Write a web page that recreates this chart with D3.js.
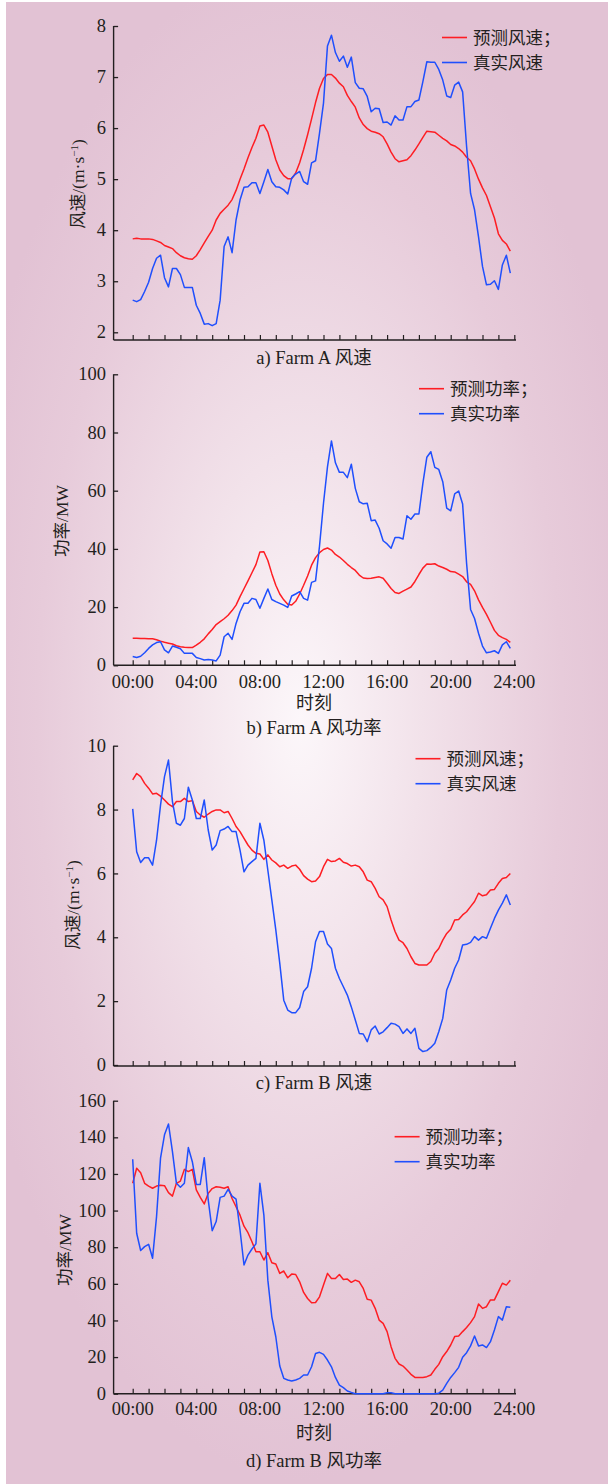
<!DOCTYPE html>
<html><head><meta charset="utf-8">
<script src="https://cdn.jsdelivr.net/npm/d3@7"></script>
<style>html,body{margin:0;padding:0;background:#fff;}svg{display:block;}</style>
</head><body>
<svg id="chart" width="608" height="1484"></svg>
<script>
// ---------------- data ----------------
const timeLabels = ["00:00","04:00","08:00","12:00","16:00","20:00","24:00"];
const stepHours = 0.25;

const farmAWindPred = [3.83,3.84,3.83,3.83,3.83,3.82,3.79,3.76,3.70,3.67,3.64,3.56,3.50,3.46,3.44,3.43,3.50,3.62,3.75,3.88,4.00,4.20,4.33,4.41,4.49,4.60,4.78,5.00,5.20,5.42,5.62,5.80,6.04,6.06,5.92,5.65,5.38,5.18,5.07,5.01,5.01,5.12,5.32,5.58,5.87,6.18,6.50,6.78,6.97,7.05,7.05,6.98,6.88,6.81,6.64,6.52,6.41,6.20,6.07,5.99,5.94,5.92,5.89,5.83,5.69,5.53,5.40,5.34,5.36,5.38,5.46,5.57,5.69,5.82,5.94,5.93,5.92,5.86,5.80,5.75,5.68,5.65,5.60,5.53,5.43,5.36,5.20,5.00,4.83,4.68,4.46,4.24,3.93,3.80,3.73,3.59];
const farmAWindReal = [2.63,2.60,2.64,2.80,2.98,3.25,3.45,3.51,3.07,2.89,3.25,3.25,3.13,2.88,2.88,2.88,2.53,2.37,2.16,2.17,2.13,2.17,2.63,3.68,3.87,3.56,4.20,4.59,4.84,4.85,4.93,4.93,4.72,4.95,5.19,4.95,4.85,4.84,4.79,4.71,5.02,5.10,5.15,4.95,4.90,5.32,5.36,5.90,6.49,7.61,7.82,7.48,7.31,7.41,7.19,7.39,6.89,6.78,6.77,6.62,6.32,6.39,6.38,6.11,6.12,6.06,6.24,6.16,6.16,6.42,6.42,6.52,6.55,6.91,7.30,7.29,7.29,7.15,6.94,6.63,6.60,6.84,6.90,6.71,5.64,4.72,4.40,3.87,3.29,2.93,2.94,3.01,2.84,3.32,3.51,3.16];

const farmAPowerPred = [9.3,9.3,9.2,9.2,9.1,9.1,8.8,8.3,7.9,7.6,7.3,6.7,6.4,6.2,6.1,6.1,6.9,7.9,9.1,10.8,12.3,14.0,15.0,16.0,17.2,18.8,20.7,23.6,26.3,29.0,31.8,34.6,38.9,39.0,36.0,31.5,27.5,24.5,22.5,21.0,20.7,22.0,24.5,27.5,30.7,34.4,37.0,38.7,39.8,40.3,39.6,38.1,37.2,36.0,34.7,33.6,32.6,31.0,30.0,29.8,29.9,30.2,30.4,29.9,28.2,26.4,25.0,24.7,25.5,26.2,26.9,28.8,31.2,33.4,34.8,34.7,34.9,34.1,33.6,33.0,32.2,32.1,31.3,30.5,28.7,27.8,25.6,22.5,19.9,17.5,14.8,12.0,10.3,9.5,8.9,7.9];
const farmAPowerReal = [3.0,2.7,3.1,4.3,5.8,7.0,7.8,8.1,5.3,4.3,6.6,6.2,5.7,4.1,4.1,4.1,2.7,2.3,1.8,2.0,1.8,1.5,3.5,9.8,11.0,8.9,14.4,18.4,21.3,21.3,23.0,22.6,19.6,23.0,26.2,22.6,21.9,21.3,20.7,19.9,23.8,24.5,25.3,23.0,22.4,28.5,29.0,41.0,55.7,68.2,77.1,69.6,66.3,66.3,64.5,69.1,60.8,56.2,55.5,55.7,49.7,49.9,47.1,42.8,41.7,40.2,43.9,43.9,43.4,51.4,50.2,52.0,52.0,62.5,71.5,73.4,68.0,67.3,63.1,54.0,53.1,58.9,59.9,55.4,35.0,19.2,16.1,11.0,6.6,4.3,4.6,5.0,4.1,7.0,8.1,5.8];

const farmBWindPred = [8.93,9.13,9.03,8.82,8.67,8.49,8.51,8.42,8.30,8.17,8.09,8.25,8.25,8.35,8.25,8.28,7.94,7.83,7.76,7.86,7.94,7.99,7.99,7.90,7.94,7.72,7.47,7.31,7.10,6.89,6.73,6.63,6.61,6.44,6.58,6.42,6.33,6.21,6.26,6.16,6.23,6.26,6.13,5.93,5.82,5.74,5.76,5.90,6.21,6.44,6.37,6.39,6.47,6.35,6.31,6.23,6.26,6.21,6.05,5.79,5.74,5.53,5.27,5.17,4.96,4.54,4.18,3.91,3.83,3.65,3.39,3.18,3.13,3.13,3.13,3.24,3.50,3.65,3.91,4.12,4.25,4.54,4.56,4.70,4.80,4.96,5.12,5.38,5.30,5.33,5.48,5.50,5.69,5.84,5.87,6.00];
const farmBWindReal = [8.02,6.68,6.34,6.49,6.49,6.26,7.04,8.14,9.03,9.55,8.25,7.57,7.51,7.72,8.70,8.30,7.72,7.72,8.30,7.36,6.73,6.89,7.34,7.39,7.47,7.31,7.31,6.73,6.05,6.26,6.37,6.47,7.57,7.04,6.10,5.17,4.23,3.18,2.03,1.72,1.64,1.64,1.80,2.30,2.45,3.03,3.86,4.18,4.18,3.79,3.65,3.03,2.71,2.45,2.19,1.82,1.41,0.99,0.97,0.73,1.10,1.22,0.97,1.04,1.17,1.31,1.28,1.20,0.99,1.13,0.99,1.15,0.52,0.42,0.45,0.55,0.68,1.04,1.46,2.35,2.66,3.03,3.29,3.76,3.78,3.84,4.02,3.91,4.02,3.97,4.28,4.59,4.85,5.07,5.33,5.01];

const farmBPowerPred = [114.9,123.1,120.7,114.9,113.4,112.2,113.4,113.8,113.6,109.8,107.9,114.9,116.1,122.5,121.3,122.5,111.3,107.2,103.6,109.4,112.0,113.0,112.7,112.2,113.0,106.6,102.1,97.5,91.5,87.9,83.0,77.5,77.5,73.0,77.0,71.5,70.8,65.7,67.0,63.3,65.3,65.1,61.1,55.3,52.0,49.6,49.8,52.9,59.3,65.7,62.9,62.9,65.1,62.4,62.6,60.8,62.0,61.1,57.5,51.6,51.1,46.6,40.2,38.4,33.9,25.7,19.3,16.2,15.1,12.9,10.6,8.9,8.9,8.9,9.3,10.2,13.3,16.0,20.2,23.0,26.6,31.2,31.5,33.9,36.1,38.8,42.1,49.0,46.6,47.5,51.2,51.2,55.7,60.3,59.3,62.0];
const farmBPowerReal = [128.0,87.6,78.2,80.3,81.6,74.0,96.7,128.6,141.4,147.3,132.2,114.9,112.7,114.9,134.4,126.7,114.3,114.3,128.9,105.8,89.0,94.0,107.2,107.9,111.6,107.9,106.3,89.4,70.3,75.7,79.0,81.8,114.9,97.5,62.0,42.0,31.1,15.1,8.4,7.5,6.9,7.5,8.4,10.2,10.2,14.7,22.0,22.6,21.5,18.4,14.7,8.9,4.7,3.3,1.5,0.7,0,0,0,0,0,0,0,0,0.5,0.5,0,0,0,0,0,0,0,0,0,0,0,0.3,2.0,5.6,8.9,11.5,14.4,19.9,22.4,26.1,31.5,26.1,26.6,25.2,28.4,34.8,42.1,40.2,47.5,47.2];

const yTicksWindA = [2,3,4,5,6,7,8];
const yTicksPowerA = [0,20,40,60,80,100];
const yTicksWindB = [0,2,4,6,8,10];
const yTicksPowerB = [0,20,40,60,80,100,120,140,160];

const legendWind = ["预测风速；","真实风速"];
const legendPower = ["预测功率；","真实功率"];
const yLabelPower = "功率/MW";
const xTitle = "时刻";
const captions = ["a) Farm A 风速","b) Farm A 风功率","c) Farm B 风速","d) Farm B 风功率"];

// ---------------- drawing ----------------
const svg = d3.select("#chart");
const defs = svg.append("defs");
const grad = defs.append("radialGradient").attr("id","bg")
  .attr("gradientUnits","userSpaceOnUse")
  .attr("cx",300).attr("cy",720).attr("r",760)
  .attr("gradientTransform","translate(300,720) scale(0.46,1) translate(-300,-720)");
grad.append("stop").attr("offset","0").attr("stop-color","#fcf7fa");
grad.append("stop").attr("offset","0.35").attr("stop-color","#f2e2ea");
grad.append("stop").attr("offset","0.75").attr("stop-color","#e7cbda");
grad.append("stop").attr("offset","1").attr("stop-color","#e2c2d4");
svg.append("rect").attr("x",6).attr("y",2).attr("width",602).attr("height",1482).attr("fill","url(#bg)");

const RED = "#fe1d23", BLUE = "#1f4ffd", INK = "#231f20";
const serif = "'Liberation Serif','Times New Roman','Noto Sans CJK SC',serif";
const cjk = "'Liberation Serif','Noto Sans CJK SC',serif";

const x = d3.scaleLinear().domain([0,24]).range([132.7,514.3]);

const panels = [
  {pred:farmAWindPred, real:farmAWindReal, dom:[2,8], rng:[332.3,26], axisY:340, ticks:yTicksWindA,
   wind:true, ylx:78, yly:184, legend:legendWind, lgx:442, lgy:37.5, xlabels:false, cap:captions[0], capY:364},
  {pred:farmAPowerPred, real:farmAPowerReal, dom:[0,100], rng:[665.3,374.3], axisY:665.3, ticks:yTicksPowerA,
   wind:false, ylx:62, yly:521, legend:legendPower, lgx:419, lgy:388.7, xlabels:true, tlY:688, ttY:709, cap:captions[1], capY:734},
  {pred:farmBWindPred, real:farmBWindReal, dom:[0,10], rng:[1065,745.7], axisY:1066, ticks:yTicksWindB,
   wind:true, ylx:72.5, yly:905, legend:legendWind, lgx:415.5, lgy:758.7, xlabels:false, cap:captions[2], capY:1089},
  {pred:farmBPowerPred, real:farmBPowerReal, dom:[0,160], rng:[1393.7,1100.7], axisY:1393.7, ticks:yTicksPowerB,
   wind:false, ylx:64.5, yly:1250, legend:legendPower, lgx:394.6, lgy:1136.7, xlabels:true, tlY:1415, ttY:1439, cap:captions[3], capY:1467}
];

const axisX0 = 113.6, axisX1 = 516;
const hourTicks = d3.range(0,25);

panels.forEach(p => {
  const g = svg.append("g");
  const y = d3.scaleLinear().domain(p.dom).range(p.rng);

  // y axis
  const yAxis = d3.axisRight(y).tickValues(p.ticks).tickSize(4.5).tickFormat("");
  const ya = g.append("g").attr("transform",`translate(${axisX0},0)`).call(yAxis);
  ya.select(".domain").remove();
  ya.selectAll(".tick line").attr("stroke",INK).attr("stroke-width",1.3);
  g.append("line").attr("x1",axisX0).attr("x2",axisX0).attr("y1",p.axisY).attr("y2",y(p.dom[1]))
    .attr("stroke",INK).attr("stroke-width",1.4);
  g.selectAll(".ytl").data(p.ticks).join("text").attr("class","ytl")
    .attr("x",106).attr("y",d=>y(d)).attr("dy","0.33em").attr("text-anchor","end")
    .attr("font-family",serif).attr("font-size",18.5).attr("fill",INK).text(d=>d);

  // x axis
  const xAxis = d3.axisTop(x).tickValues(hourTicks).tickSize(5).tickFormat("");
  const xa = g.append("g").attr("transform",`translate(0,${p.axisY})`).call(xAxis);
  xa.select(".domain").remove();
  xa.selectAll(".tick line").attr("stroke",INK).attr("stroke-width",1.2);
  g.append("line").attr("x1",axisX0).attr("x2",axisX1).attr("y1",p.axisY).attr("y2",p.axisY)
    .attr("stroke",INK).attr("stroke-width",1.4);
  if (p.xlabels) {
    g.selectAll(".xtl").data(timeLabels).join("text").attr("class","xtl")
      .attr("x",(d,i)=>x(i*4)).attr("y",p.tlY).attr("text-anchor","middle")
      .attr("font-family",serif).attr("font-size",18.5).attr("fill",INK).text(d=>d);
    g.append("text").attr("x",314).attr("y",p.ttY).attr("text-anchor","middle")
      .attr("font-family",cjk).attr("font-size",18).attr("fill",INK).text(xTitle);
  }
  g.append("text").attr("x",314).attr("y",p.capY).attr("text-anchor","middle")
    .attr("font-family",cjk).attr("font-size",18.5).attr("fill",INK).text(p.cap);

  // y label
  const yl = g.append("text").attr("transform",`translate(${p.ylx},${p.yly}) rotate(-90)`)
    .attr("text-anchor","middle").attr("dy","0.35em")
    .attr("font-family",cjk).attr("font-size",17.5).attr("fill",INK);
  if (p.wind) {
    yl.append("tspan").text("风速/(m·s");
    yl.append("tspan").attr("font-size",11).attr("dy","-0.55em").text("−1");
    yl.append("tspan").attr("dy","0.35em").text(")");
  } else {
    yl.text(yLabelPower);
  }

  // lines
  const line = d3.line().x((d,i)=>x(i*stepHours)).y(d=>y(d));
  g.append("path").datum(p.pred).attr("d",line).attr("fill","none").attr("stroke",RED).attr("stroke-width",1.5).attr("stroke-linejoin","round");
  g.append("path").datum(p.real).attr("d",line).attr("fill","none").attr("stroke",BLUE).attr("stroke-width",1.5).attr("stroke-linejoin","round");

  // legend
  [RED,BLUE].forEach((c,i)=>{
    const ly = p.lgy + i*25;
    g.append("line").attr("x1",p.lgx).attr("x2",p.lgx+25).attr("y1",ly).attr("y2",ly).attr("stroke",c).attr("stroke-width",1.6);
    g.append("text").attr("x",p.lgx+31).attr("y",ly).attr("dy","0.36em")
      .attr("font-family",cjk).attr("font-size",17.5).attr("fill",INK).text(p.legend[i]);
  });
});
</script>
</body></html>
